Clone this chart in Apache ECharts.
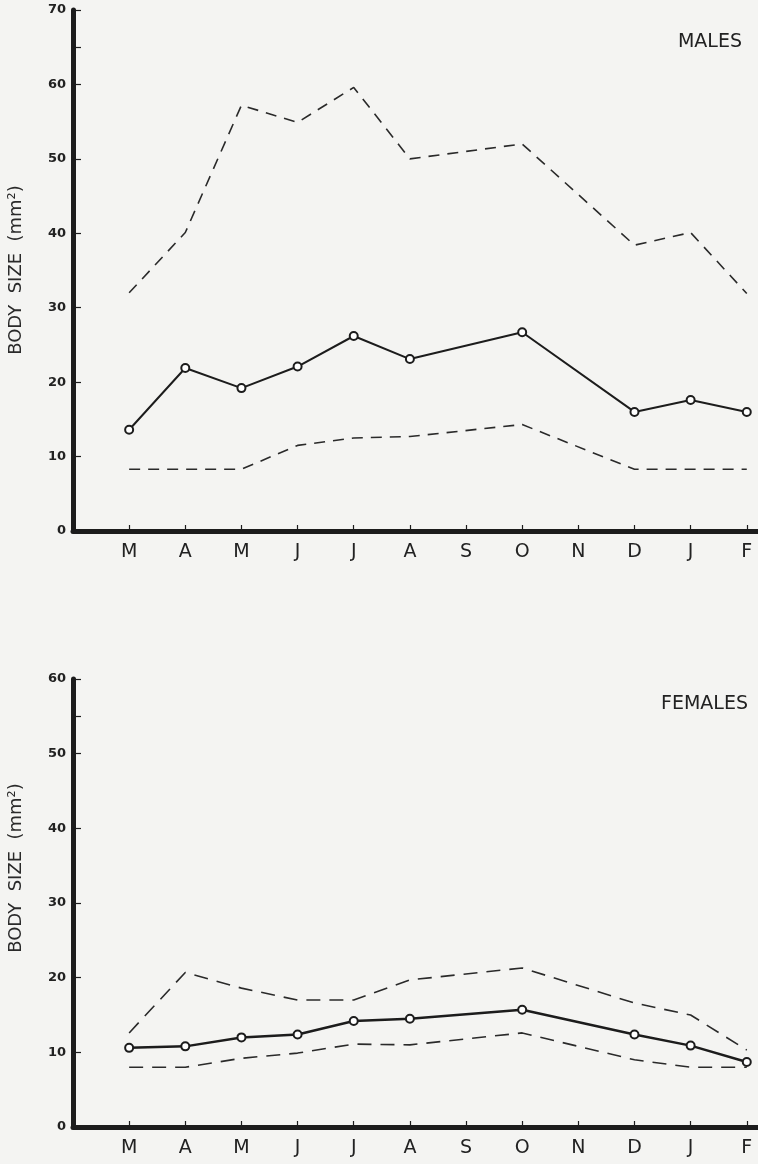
<!DOCTYPE html>
<html>
<head>
<meta charset="utf-8">
<script src="https://cdn.jsdelivr.net/npm/echarts@6/dist/echarts.min.js"></script>
<style>
  html, body { margin: 0; padding: 0; background: #f4f4f2; }
  #chart { width: 758px; height: 1164px; }
</style>
</head>
<body>
<div id="chart"></div>
<script>
// Month labels, March through February
const months = ['M', 'A', 'M', 'J', 'J', 'A', 'S', 'O', 'N', 'D', 'J', 'F'];

// Males: mean body size and upper / lower range (mm²); S and N not sampled
const maleMean  = [13.6, 21.9, 19.2, 22.1, 26.2, 23.1, null, 26.7, null, 16.0, 17.6, 16.0];
const maleUpper = [32.0, 40.1, 57.2, 54.9, 59.6, 50.0, null, 52.0, null, 38.4, 40.1, 31.9];
const maleLower = [8.3, 8.3, 8.3, 11.5, 12.5, 12.7, null, 14.3, null, 8.3, 8.3, 8.3];

// Females: mean body size and upper / lower range (mm²)
const femaleMean  = [10.6, 10.8, 12.0, 12.4, 14.2, 14.5, null, 15.7, null, 12.4, 10.9, 8.7];
const femaleUpper = [12.6, 20.7, 18.6, 17.0, 17.0, 19.7, null, 21.3, null, 16.6, 15.0, 10.3];
const femaleLower = [8.0, 8.0, 9.2, 9.9, 11.1, 11.0, null, 12.6, null, 9.0, 8.0, 8.0];

// Y tick values for each panel
const maleTicks = [0, 10, 20, 30, 40, 50, 60, 70];
const femaleTicks = [0, 10, 20, 30, 40, 50, 60];

const INK = '#1c1c1c';
const BG = '#f4f4f2';
const monthIdx = months.map((m, i) => i);

function pairs(values) {
  const out = [];
  values.forEach((v, i) => { if (v !== null) out.push([i, v]); });
  return out;
}

function xAxis(gridIndex) {
  return {
    type: 'value', gridIndex, min: -1, max: 11.2,
    splitLine: { show: false },
    axisLine: { lineStyle: { color: INK, width: 5 } },
    axisTick: { show: true, inside: true, length: 6, customValues: monthIdx,
                lineStyle: { color: INK, width: 1.2 } },
    axisLabel: { customValues: monthIdx, formatter: v => months[Math.round(v)] || '',
                 color: '#222', fontSize: 19, fontFamily: 'DejaVu Sans, sans-serif',
                 margin: 12 }
  };
}

function yAxis(gridIndex, max, ticks, minorTicks) {
  return {
    type: 'value', gridIndex, min: 0, max, interval: 10,
    splitLine: { show: false },
    axisLine: { show: true, onZero: false, lineStyle: { color: INK, width: 5 } },
    axisTick: { show: true, inside: true, length: 8, customValues: ticks.concat(minorTicks),
                lineStyle: { color: INK, width: 1.2 } },
    axisLabel: { customValues: ticks, color: '#222', fontSize: 13, fontWeight: 'bold',
                 fontFamily: 'DejaVu Sans, sans-serif', margin: 7 }
  };
}

function meanSeries(values, idx, width) {
  return {
    type: 'line', xAxisIndex: idx, yAxisIndex: idx, data: pairs(values),
    symbol: 'emptyCircle', symbolSize: 8, showSymbol: true,
    lineStyle: { color: INK, width },
    itemStyle: { color: INK, borderColor: INK, borderWidth: 1.8 },
    z: 5, silent: true
  };
}

function rangeSeries(values, idx, dash) {
  return {
    type: 'line', xAxisIndex: idx, yAxisIndex: idx, data: pairs(values),
    symbol: 'none', lineStyle: { color: '#2a2a2a', width: 1.6, type: dash },
    silent: true
  };
}

function yTitle(cy) {
  return {
    type: 'text', x: 16, y: cy, rotation: Math.PI / 2,
    style: { x: 0, y: 0, text: 'BODY  SIZE  (mm²)', fill: '#2a2a2a', fontSize: 18,
             fontFamily: 'DejaVu Sans, sans-serif',
             align: 'center', verticalAlign: 'middle' }
  };
}

function panelTitle(text, top) {
  return {
    type: 'text', right: 16, top,
    style: { text, fill: '#222', fontSize: 19, fontFamily: 'DejaVu Sans, sans-serif' }
  };
}

const chart = echarts.init(document.getElementById('chart'));
chart.setOption({
  animation: false,
  backgroundColor: BG,
  grid: [
    { left: 73, right: 0, top: 10, bottom: 633 },
    { left: 73, right: 0, top: 679, bottom: 37 }
  ],
  xAxis: [xAxis(0), xAxis(1)],
  yAxis: [yAxis(0, 70, maleTicks, [65]), yAxis(1, 60, femaleTicks, [55])],
  graphic: [
    panelTitle('MALES', 33),
    Object.assign(panelTitle('FEMALES', 695), { right: 10 }),
    yTitle(270),
    yTitle(868)
  ],
  series: [
    rangeSeries(maleUpper, 0, [11, 8]), rangeSeries(maleLower, 0, [11, 8]),
    meanSeries(maleMean, 0, 2),
    rangeSeries(femaleUpper, 1, [14, 9]), rangeSeries(femaleLower, 1, [14, 9]),
    meanSeries(femaleMean, 1, 2.5)
  ]
});
</script>
</body>
</html>
